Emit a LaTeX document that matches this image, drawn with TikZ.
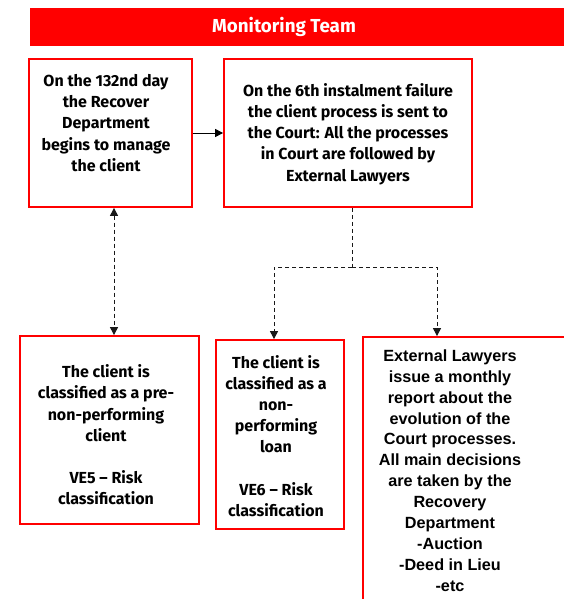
\documentclass[tikz,border=0pt]{standalone}
\usepackage{fontspec}
\setmainfont{Liberation Sans}
\newfontfamily\vf{Fira Sans}
\usetikzlibrary{arrows.meta}
\definecolor{vred}{HTML}{FF0000}
\tikzset{
  box/.style={draw=vred, line width=1.8pt, rectangle, inner sep=0pt},
  txt/.style={align=center, font=\vf\bfseries\fontsize{16}{21.2}\selectfont, inner sep=0pt},
  txtE/.style={align=center, font=\bfseries\fontsize{16.2}{20.9}\selectfont, inner sep=0pt},
  tipA/.style={-{Triangle[length=8pt,width=8pt]}},
  dsh/.style={line width=1pt, black!90, dash pattern=on 4pt off 3pt},
  conn/.style={dsh, tipA}
}
\begin{document}
\begin{tikzpicture}[x=1pt,y=-1pt]
\useasboundingbox (0,0) rectangle (563,599);
\fill[white] (0,0) rectangle (563,599);
% banner
\fill[vred] (30,8) rectangle (565,46);
\node[font=\vf\bfseries\fontsize{18.8}{22}\selectfont, text=white] (title) at (284,27) {Monitoring Team};
% boxes
\node[box, minimum width=163pt, minimum height=148pt] (A) at (110.5,133) {};
\node[box, minimum width=248pt, minimum height=148pt] (B) at (348,133) {};
\node[box, minimum width=179pt, minimum height=188pt] (C) at (109.5,430) {};
\node[box, minimum width=128pt, minimum height=189pt] (D) at (280,434.5) {};
\node[box, minimum width=220pt, minimum height=290pt] (E) at (473,482) {};
% texts
\node[txt] (tA) at (106,123) {On the 132nd day\\the Recover\\Department\\begins to manage\\the client};
\node[txt] (tB) at (348,134) {On the 6th instalment failure\\the client process is sent to\\the Court: All the processes\\in Court are followed by\\External Lawyers};
\node[txt] (tC) at (106,435) {The client is\\classified as a pre-\\non-performing\\client\\[21.2pt]VE5 – Risk\\classification};
\node[txt] (tD) at (276,436) {The client is\\classified as a\\non-\\performing\\loan\\[21.2pt]VE6 – Risk\\classification};
\node[txtE] (tE) at (450,470.5) {External Lawyers\\issue a monthly\\report about the\\evolution of the\\Court processes.\\All main decisions\\are taken by the\\Recovery\\Department\\-Auction\\-Deed in Lieu\\-etc};
% connectors
\coordinate (a1) at (114,0);
\coordinate (j) at (352,267);
\draw[line width=1pt, tipA] (A.east) -- (B.west);
\draw[dsh, {Triangle[length=8pt,width=8pt]}-{Triangle[length=8pt,width=8pt]}] (A.south -| a1) -- (C.north -| a1);
\draw[dsh] (B.south -| j) -- (j);
\draw[conn] (j) -| (D.north -| 274,0);
\draw[conn] (j) -| (E.north -| 437,0);
\end{tikzpicture}
\end{document}
